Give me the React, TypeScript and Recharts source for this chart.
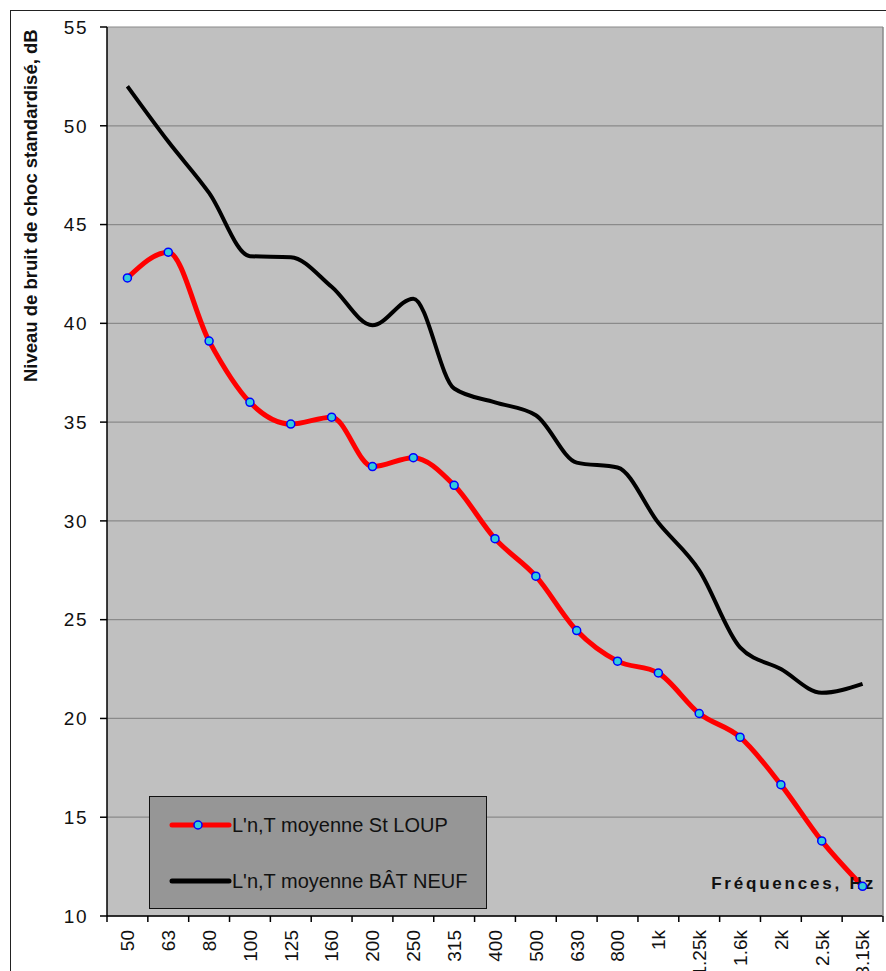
import React from 'react'
import { LineChart, Line, XAxis, YAxis, CartesianGrid, Legend } from 'recharts'

// frequency bands (Hz)
const categories = ['50', '63', '80', '100', '125', '160', '200', '250', '315', '400', '500', '630', '800', '1k', '1.25k', '1.6k', '2k', '2.5k', '3.15k']
// L'n,T moyenne St LOUP
const stLoup = [42.3, 43.6, 39.1, 36.0, 34.9, 35.25, 32.75, 33.2, 31.8, 29.1, 27.2, 24.45, 22.9, 22.3, 20.25, 19.05, 16.65, 13.8, 11.5]
// L'n,T moyenne BÂT NEUF
const batNeuf = [52.0, 49.2, 46.6, 43.4, 43.35, 41.85, 39.9, 41.25, 36.7, 36.0, 35.35, 32.95, 32.7, 29.9, 27.5, 23.6, 22.5, 21.3, 21.75]
const yTicks = [10, 15, 20, 25, 30, 35, 40, 45, 50, 55]

const data = categories.map((f, i) => ({ f, loup: stLoup[i], neuf: batNeuf[i] }))

const W = 886
const H = 971
const Y_AXIS_W = 107
const R_AXIS_W = 3
const X_AXIS_H = 55
const TOP = 27
const BAND = (W - Y_AXIS_W - R_AXIS_W) / categories.length
const FONT = '"Liberation Sans", Arial, sans-serif'
const MARKER = { r: 4, fill: '#33ccdd', stroke: '#0000ff', strokeWidth: 1.5 }

function XTick(props: any) {
  const { x, y, payload } = props
  const axisY = y - 14
  const last = payload.value === categories[categories.length - 1]
  return (
    <g>
      <line x1={x - BAND / 2} x2={x - BAND / 2} y1={axisY} y2={axisY + 6} stroke="#000" strokeWidth={1.5} />
      {last && <line x1={x + BAND / 2} x2={x + BAND / 2} y1={axisY} y2={axisY + 6} stroke="#000" strokeWidth={1.5} />}
      <text x={x} y={y} transform={`rotate(-90 ${x} ${y})`} textAnchor="end" dy="0.36em"
        fontSize={19} fill="#111" fontFamily={FONT}>{payload.value}</text>
    </g>
  )
}

function YTitle() {
  return (
    <text x={37} y={382} transform="rotate(-90 37 382)" fontSize={18.5} fontWeight="bold" fill="#111" fontFamily={FONT}>
      Niveau de bruit de choc standardisé, dB
    </text>
  )
}

function XTitle() {
  return (
    <text x={876} y={889} textAnchor="end" fontSize={17} fontWeight="bold" letterSpacing={2.8} fill="#111" fontFamily={FONT}>
      Fréquences, Hz
    </text>
  )
}

function LegendBox() {
  const item = (label: string, color: string, width: number, marker: boolean) => (
    <div style={{ display: 'flex', alignItems: 'center', height: 56 }}>
      <svg width={82} height={20} style={{ flex: 'none' }}>
        <line x1={22} x2={79} y1={10} y2={10} stroke={color} strokeWidth={width} strokeLinecap="round" />
        {marker && <circle cx={48} cy={10} {...MARKER} />}
      </svg>
      <span style={{ fontSize: 20, color: '#111', fontFamily: FONT, whiteSpace: 'nowrap' }}>{label}</span>
    </div>
  )
  return (
    <div style={{ width: 338, height: 113, boxSizing: 'border-box', border: '1.5px solid #111', background: '#969696', paddingTop: 0 }}>
      {item("L'n,T moyenne St LOUP", '#ff0000', 5, true)}
      {item("L'n,T moyenne BÂT NEUF", '#000', 5, false)}
    </div>
  )
}

export default function App() {
  return (
    <div style={{ position: 'fixed', left: 0, top: 0, width: W, height: H, overflow: 'hidden', background: '#fff' }}>
      <div style={{ position: 'absolute', left: 10, top: 10, width: 1000, height: 1100, border: '1.5px solid #222' }} />
      <div style={{ position: 'absolute', left: 0, top: 0 }}>
        <LineChart width={W} height={H} data={data} margin={{ top: TOP, right: 0, bottom: 0, left: 0 }}>
          <CartesianGrid vertical={false} stroke="#8a8a8a" strokeWidth={1.2} fill="#c0c0c0" fillOpacity={1} />
          <XAxis dataKey="f" height={X_AXIS_H} padding={{ left: BAND / 2, right: BAND / 2 }} interval={0}
            tickSize={6} tickMargin={8} tickLine={false} tick={<XTick />}
            axisLine={{ stroke: '#000', strokeWidth: 1.5 }} label={<XTitle />} />
          <YAxis domain={[10, 55]} ticks={yTicks} width={Y_AXIS_W} tickSize={7} tickMargin={12}
            interval={0} allowDataOverflow
            tick={{ fontSize: 19, fill: '#111', fontFamily: FONT, letterSpacing: 1.5 }}
            tickLine={{ stroke: '#000', strokeWidth: 1.5 }} axisLine={{ stroke: '#000', strokeWidth: 1.5 }}
            label={<YTitle />} />
          <YAxis yAxisId="r" orientation="right" domain={[10, 55]} width={R_AXIS_W} tick={false} tickLine={false}
            axisLine={{ stroke: '#8a8a8a', strokeWidth: 1.5 }} />
          <Legend layout="vertical" align="center" verticalAlign="middle" content={<LegendBox />}
            wrapperStyle={{ position: 'absolute', left: 149, top: 796, width: 338, height: 113, margin: 0 }} />
          <Line dataKey="neuf" name="L'n,T moyenne BÂT NEUF" type="monotone" stroke="#000" strokeWidth={4}
            dot={false} isAnimationActive={false} />
          <Line dataKey="loup" name="L'n,T moyenne St LOUP" type="monotone" stroke="#ff0000" strokeWidth={5}
            dot={MARKER} activeDot={false} isAnimationActive={false} />
        </LineChart>
      </div>
    </div>
  )
}
